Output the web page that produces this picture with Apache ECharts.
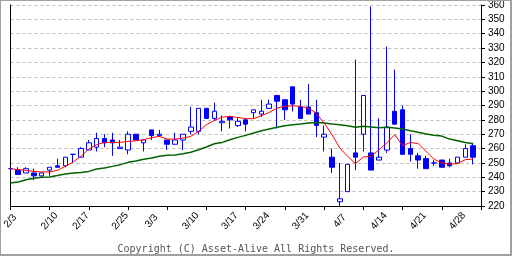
<!DOCTYPE html>
<html><head><meta charset="utf-8">
<script src="https://cdn.jsdelivr.net/npm/echarts@6/dist/echarts.min.js"></script>
<style>
html,body{margin:0;padding:0;background:#fff;}
#wrap{width:512px;height:256px;box-sizing:border-box;border-style:solid;border-color:#a0a0a0;border-width:1px 2px 2px 1px;position:relative;overflow:hidden;}
#c{position:absolute;left:-1px;top:-1px;width:512px;height:256px;}
</style></head>
<body><div id="wrap"><div id="c"></div></div>
<script>
const dates = ['2/3','2/4','2/5','2/6','2/7','2/10','2/12','2/13','2/14','2/17','2/18','2/19','2/20','2/21','2/25','2/26','2/27','2/28',
'3/3','3/4','3/5','3/6','3/7','3/10','3/11','3/12','3/13','3/14','3/17','3/18','3/19','3/21','3/24','3/25','3/26','3/27','3/28',
'3/31','4/1','4/2','4/3','4/4','4/7','4/8','4/9','4/10','4/11','4/14','4/15','4/16','4/17','4/18','4/21','4/22','4/23','4/24','4/25',
'4/28','4/30','5/1','5/2'];
const tickLabels = ['2/3','2/10','2/17','2/25','3/3','3/10','3/17','3/24','3/31','4/7','4/14','4/21','4/28'];
const openV  = [246,245,243,243,241,245,248,248,256,254,259,261,267,266,260,259,270,264,273,269,266,263,266,272,272,288,281,278,282,276,280,285,284,288,297,294,303,289,289,285,268,254,223,230,257,270,257,252,259,286,287,260,255,253,250,252,250,250,254,262];
const closeV = [246,242,246,241,243,247,247,254,256,260,264,267,264,264,261,270,266,266,269,270,263,266,270,275,288,281,286,279,280,279,277,287,286,291,293,287,291,281,284,276,270,247,225,249,254,297,245,254,275,277,256,256,252,246,250,247,248,254,260,254];
const lowV   = [245,242,243,238,240,241,247,247,250,254,259,258,261,255,260,256,266,258,266,268,259,263,259,270,270,281,279,272,274,275,272,281,282,288,274,280,286,281,284,268,258,243,220,230,245,258,245,252,257,277,256,251,246,246,248,247,247,250,254,249];
const highV  = [247,247,247,246,243,247,253,254,256,261,266,271,270,271,266,272,270,266,273,273,266,271,270,289,288,288,292,283,283,282,281,287,294,294,297,294,303,294,305,294,276,260,250,249,322,297,359,281,331,315,290,270,257,255,252,252,253,254,263,264];
const ma5  = [246,245.3,244.8,244.1,243.7,243.7,244.8,247.6,250.6,254.6,259.7,262.7,264.3,264.3,264.3,265,265.4,266.2,267.6,268.5,266.6,266.6,267.3,268.5,272,276.6,279.6,281.9,282.4,281.7,280.8,280.8,282.9,285.2,288.2,289.4,289.8,289.4,288.2,284.7,277.8,269.7,260.4,254.6,249.5,254.1,254.6,259.2,263.9,269.7,262,264.3,263.4,258,252.7,249.9,249.2,249.5,252.3,252.7];
const ma25 = [236,236.7,238.3,239.3,240,240.2,241.3,242.3,243,243.4,244.1,245.8,246.5,247.6,248.8,250.4,251.3,252.5,253.4,254.6,255.3,255.5,256.4,257.4,259.2,261.1,263.4,264.3,266.2,267.8,269.2,270.8,272.4,273.6,274.8,275.9,276.6,277.1,277.8,278.2,277.8,277.1,276.6,275.9,274.8,275.5,275,274.5,274.8,274.3,273.6,272.4,271.3,270.1,269.2,268.7,266.6,265.5,264.3,263.4];

const candles = openV.map((o,i)=>[o, closeV[i], lowV[i], highV[i]]);
const chart = echarts.init(document.getElementById('c'), null, {renderer:'canvas'});
const lblFont = {fontFamily:'Liberation Sans', fontSize:10, color:'#000'};
chart.setOption({
  animation:false,
  backgroundColor:'transparent',
  title:{text:'Copyright (C) Asset-Alive All Rights Reserved.', left:'center', top:239,
    textStyle:{fontFamily:'DejaVu Sans Mono', fontSize:10, fontWeight:'normal', color:'#555'}},
  grid:{left:10, right:31, top:5, bottom:50},
  xAxis:{type:'category', data:dates, boundaryGap:false,
    axisLine:{lineStyle:{color:'#000', width:1}},
    axisTick:{interval:(i)=>i%5===0, length:4, lineStyle:{color:'#000'}},
    axisLabel:{interval:(i,v)=>tickLabels.includes(v), rotate:48, align:'center', verticalAlign:'middle', margin:15, ...lblFont},
    splitLine:{show:false}},
  yAxis:[{type:'value', position:'right', min:220, max:360, interval:10,
    axisLine:{show:true, lineStyle:{color:'#000'}},
    axisTick:{show:true, length:4, lineStyle:{color:'#000'}},
    axisLabel:{margin:7, ...lblFont},
    splitLine:{show:true, lineStyle:{color:'#bbb', type:[3,3]}}},
    {type:'value', position:'left', min:220, max:360, interval:10,
    axisLine:{show:true, lineStyle:{color:'#000'}}, axisTick:{show:false}, axisLabel:{show:false}, splitLine:{show:false}}],
  series:[
    {type:'candlestick', data:candles, barWidth:5,
      itemStyle:{color:'#fff', color0:'#0000ff', borderColor:'#0000ff', borderColor0:'#0000ff', borderColorDoji:'#0000ff', borderWidth:1}},
    {type:'line', data:ma25, symbol:'none', lineStyle:{color:'#006400', width:1.5}},
    {type:'line', data:ma5, symbol:'none', lineStyle:{color:'#ff0000', width:1}}
  ]
});
</script></body></html>
